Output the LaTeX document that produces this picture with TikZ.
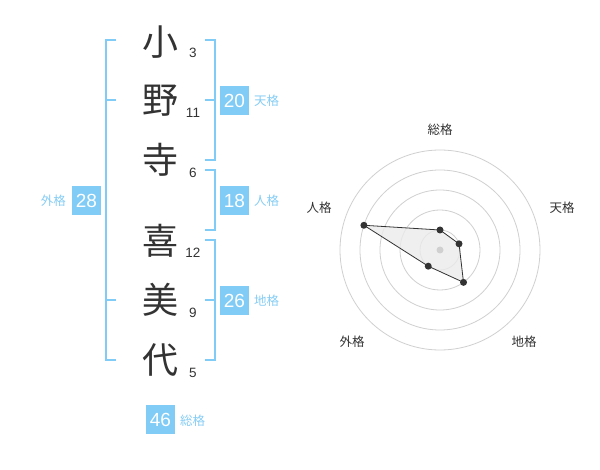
\documentclass[tikz,border=0pt]{standalone}
\usepackage{fontspec}
\setmainfont{Liberation Sans}
\newfontfamily\jpfont{Noto Sans CJK JP}
\definecolor{acc}{HTML}{80CCF6}
\definecolor{acclab}{HTML}{86CDF5}
\definecolor{ink}{HTML}{333333}
\definecolor{ring}{HTML}{D0D0D0}
\tikzset{
  kanji/.style={font=\jpfont\fontsize{36}{36}\selectfont, text=ink, inner sep=0pt},
  stroke/.style={font=\fontsize{13.5}{14}\selectfont, text=ink, inner sep=0pt},
  valbox/.style={fill=acc, text=white, minimum width=29pt, minimum height=29pt, inner sep=0pt, font=\fontsize{19}{19}\selectfont},
  vlabel/.style={text=acclab, inner sep=0pt, font=\jpfont\fontsize{12.5}{13}\selectfont},
  brk/.style={draw=acc, line width=2pt},
  rlabel/.style={text=ink, inner sep=0pt, font=\jpfont\fontsize{12.5}{13}\selectfont},
  ringc/.style={draw=ring, line width=0.8pt},
  dot/.style={circle, fill=ink, minimum size=7pt, inner sep=0pt},
}
\begin{document}
\begin{tikzpicture}[x=1pt,y=-1pt]
\useasboundingbox (0,0) rectangle (600,470);
\fill[white] (0,0) rectangle (600,470);
% kanji
\node[kanji] (k1) at (160,42) {小};
\node[kanji] (k2) at (160,101) {野};
\node[kanji] (k3) at (160,160) {寺};
\node[kanji] (k4) at (160,241) {喜};
\node[kanji] (k5) at (160,300) {美};
\node[kanji] (k6) at (160,360) {代};
% strokes
\node[stroke] (s1) at (193,53) {3};
\node[stroke] (s2) at (193,113) {11};
\node[stroke] (s3) at (193,173) {6};
\node[stroke] (s4) at (193,253) {12};
\node[stroke] (s5) at (193,313) {9};
\node[stroke] (s6) at (193,373) {5};
% brackets
\draw[brk] (116,40) -- (105.5,40) -- (105.5,360) -- (116,360);
\draw[brk] (105.5,100) -- (116,100);
\draw[brk] (105.5,300) -- (116,300);
\draw[brk] (205,40) -- (214.5,40) -- (214.5,160) -- (205,160);
\draw[brk] (205,100) -- (214.5,100);
\draw[brk] (205,170) -- (214.5,170) -- (214.5,230) -- (205,230);
\draw[brk] (205,240) -- (214.5,240) -- (214.5,360) -- (205,360);
\draw[brk] (205,300) -- (214.5,300);
% value boxes
\node[valbox] (gai) at (86.5,200.5) {28};
\node[vlabel, anchor=east] (gail) at (66,200.5) {外格};
\node[valbox] (ten) at (234.5,100.5) {20};
\node[vlabel, anchor=west] (tenl) at (254,100.5) {天格};
\node[valbox] (jin) at (234.5,200.5) {18};
\node[vlabel, anchor=west] (jinl) at (254,200.5) {人格};
\node[valbox] (chi) at (234.5,300.5) {26};
\node[vlabel, anchor=west] (chil) at (254,300.5) {地格};
\node[valbox] (sou) at (160.5,419.5) {46};
\node[vlabel, anchor=west] (soul) at (180,421) {総格};
% radar
\coordinate (c) at (440,250);
\foreach \r in {20,40,60,80,100} \draw[ringc] (c) circle (\r);
\coordinate (p1) at ([shift={(-90:20)}]c);
\coordinate (p2) at ([shift={(-18:20)}]c);
\coordinate (p3) at ([shift={(54:40)}]c);
\coordinate (p4) at ([shift={(126:20)}]c);
\coordinate (p5) at ([shift={(-162:80)}]c);
\filldraw[fill=black!8, fill opacity=0.8, draw=ink, line width=0.8pt] (p1) -- (p2) -- (p3) -- (p4) -- (p5) -- cycle;
\fill[ring] (c) circle (3.5);
\foreach \p in {p1,p2,p3,p4,p5} \node[dot] at (\p) {};
\node[rlabel] (r1) at (440,130) {総格};
\node[rlabel] (r2) at (562,208) {天格};
\node[rlabel] (r3) at (524,342) {地格};
\node[rlabel] (r4) at (352,342) {外格};
\node[rlabel] (r5) at (319,208) {人格};
\end{tikzpicture}
\end{document}
